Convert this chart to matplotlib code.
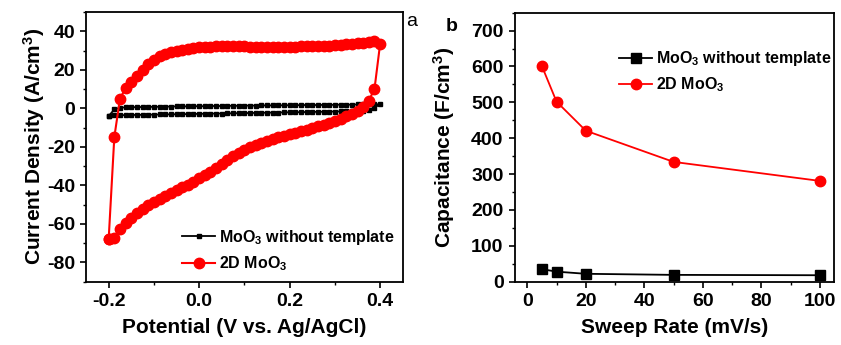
import matplotlib
matplotlib.use("Agg")
import matplotlib.pyplot as plt
from matplotlib.ticker import MultipleLocator

plt.rcParams['font.family'] = ['Liberation Sans', 'DejaVu Sans']
plt.rcParams['font.weight'] = 'bold'
plt.rcParams['axes.labelweight'] = 'bold'
plt.rcParams['mathtext.fontset'] = 'custom'
plt.rcParams['mathtext.bf'] = 'Liberation Sans:bold'
plt.rcParams['mathtext.rm'] = 'Liberation Sans:bold'
plt.rcParams['mathtext.default'] = 'bf'

# CV scan, potential in V vs Ag/AgCl
potential = [-0.2, -0.1875, -0.175, -0.1625, -0.15, -0.1375, -0.125, -0.1125, -0.1, -0.0875,
             -0.075, -0.0625, -0.05, -0.0375, -0.025, -0.0125, 0.0, 0.0125, 0.025, 0.0375,
             0.05, 0.0625, 0.075, 0.0875, 0.1, 0.1125, 0.125, 0.1375, 0.15, 0.1625,
             0.175, 0.1875, 0.2, 0.2125, 0.225, 0.2375, 0.25, 0.2625, 0.275, 0.2875,
             0.3, 0.3125, 0.325, 0.3375, 0.35, 0.3625, 0.375, 0.3875, 0.4]

# MoO3 without template: anodic and cathodic sweep
bulk_fwd = [-4.0, -0.6, 0.3, 0.5, 0.6, 0.6, 0.7, 0.7, 0.8, 0.8,
            0.9, 0.9, 1.0, 1.0, 1.0, 1.1, 1.1, 1.1, 1.2, 1.2,
            1.2, 1.3, 1.3, 1.3, 1.4, 1.4, 1.4, 1.5, 1.5, 1.5,
            1.5, 1.6, 1.6, 1.6, 1.7, 1.7, 1.7, 1.7, 1.8, 1.8,
            1.8, 1.9, 1.9, 1.9, 2.0, 2.0, 2.0, 2.1, 2.1]
bulk_rev = [-4.0, -3.7, -3.6, -3.5, -3.5, -3.4, -3.4, -3.3, -3.3, -3.2,
            -3.2, -3.1, -3.1, -3.0, -3.0, -2.9, -2.9, -2.8, -2.8, -2.7,
            -2.7, -2.6, -2.6, -2.5, -2.5, -2.4, -2.4, -2.3, -2.3, -2.2,
            -2.2, -2.1, -2.1, -2.0, -2.0, -1.9, -1.9, -1.8, -1.8, -1.7,
            -1.7, -1.6, -1.6, -1.5, -1.4, -1.2, -0.8, 0.4, 2.1]

# 2D MoO3
sheet_fwd = [-68.0, -15.0, 5.0, 10.5, 13.5, 17.0, 20.0, 23.0, 25.3, 27.0,
             28.3, 29.2, 30.0, 30.5, 31.0, 31.3, 31.6, 31.8, 32.0, 32.1,
             32.2, 32.3, 32.3, 32.2, 32.1, 32.0, 32.0, 31.9, 31.9, 31.9,
             31.9, 31.9, 32.0, 32.0, 32.1, 32.2, 32.3, 32.4, 32.5, 32.6,
             32.8, 33.0, 33.2, 33.5, 33.8, 34.1, 34.5, 35.0, 33.5]
sheet_rev = [-68.0, -67.5, -62.5, -59.5, -56.8, -54.3, -52.2, -50.4, -48.7, -47.1,
             -45.6, -44.1, -42.6, -41.1, -39.6, -38.0, -36.4, -34.7, -32.8, -30.8,
             -28.8, -26.7, -24.9, -23.1, -21.5, -20.1, -18.9, -17.8, -16.8, -15.9,
             -15.0, -14.2, -13.4, -12.6, -11.8, -11.0, -10.2, -9.3, -8.4, -7.4,
             -6.4, -5.3, -4.1, -2.8, -1.2, 0.8, 4.0, 10.0, 33.5]

# capacitance vs sweep rate
sweep_rate = [5, 10, 20, 50, 100]
cap_bulk = [35, 28, 22, 19, 18]
cap_sheet = [601, 502, 421, 334, 281]

label_bulk = r"MoO$_3$ without template"
label_sheet = r"2D MoO$_3$"

# tick values
cv_xticks = [-0.2, 0.0, 0.2, 0.4]
cv_yticks = [-80, -60, -40, -20, 0, 20, 40]
rate_xticks = [0, 20, 40, 60, 80, 100]
cap_yticks = [0, 100, 200, 300, 400, 500, 600, 700]

fig = plt.figure(figsize=(8.41, 3.45), dpi=100)
ax = fig.add_axes([0.1023, 0.1835, 0.3766, 0.7817])
bx = fig.add_axes([0.612, 0.1835, 0.380, 0.7797])

loop_x = potential + potential[::-1][1:]
ax.plot(loop_x, bulk_fwd + bulk_rev[::-1][1:], color='black', marker='s',
        ms=3.2, lw=1.3, label=label_bulk)
ax.plot(loop_x, sheet_fwd + sheet_rev[::-1][1:], color='#ff0000', marker='o',
        ms=7.5, lw=1.5, label=label_sheet)
ax.set_xlim(-0.25, 0.45)
ax.set_ylim(-90, 50)
ax.set_xticks(cv_xticks, [f"{v:.1f}" for v in cv_xticks], fontweight='heavy')
ax.set_yticks(cv_yticks, [str(v) for v in cv_yticks], fontweight='heavy')
ax.xaxis.set_minor_locator(MultipleLocator(0.1))
ax.yaxis.set_minor_locator(MultipleLocator(10))
ax.set_xlabel('Potential (V vs. Ag/AgCl)', fontsize=15, labelpad=6)
ax.set_ylabel(r'Current Density (A/cm$^3$)', fontsize=15, labelpad=0)
ax.legend(loc='lower right', frameon=False, fontsize=11.5, handlelength=2.1,
          handletextpad=0.2, borderaxespad=0.15, labelspacing=0.45)
ax.text(1.012, 0.995, 'a', transform=ax.transAxes, fontsize=14,
        fontweight='normal', va='top', ha='left')

bx.plot(sweep_rate, cap_bulk, color='black', marker='s', ms=6.5, lw=1.3,
        label=label_bulk)
bx.plot(sweep_rate, cap_sheet, color='#ff0000', marker='o', ms=7.5, lw=1.3,
        label=label_sheet)
bx.set_xlim(-4.3, 104.9)
bx.set_ylim(0, 750)
bx.set_xticks(rate_xticks, [str(v) for v in rate_xticks], fontweight='heavy')
bx.set_yticks(cap_yticks, [str(v) for v in cap_yticks], fontweight='heavy')
bx.xaxis.set_minor_locator(MultipleLocator(10))
bx.yaxis.set_minor_locator(MultipleLocator(50))
bx.set_xlabel('Sweep Rate (mV/s)', fontsize=15, labelpad=6)
bx.set_ylabel(r'Capacitance (F/cm$^3$)', fontsize=15, labelpad=10)
bx.legend(loc='upper right', bbox_to_anchor=(1.02, 0.9), frameon=False,
          fontsize=11.5, handlelength=2.1, handletextpad=0.2,
          borderaxespad=0.2, labelspacing=0.45)
bx.text(-0.215, 0.98, 'b', transform=bx.transAxes, fontsize=14,
        fontweight='bold', va='top', ha='left')

for a in (ax, bx):
    for s in a.spines.values():
        s.set_linewidth(1.3)
    a.tick_params(which='major', direction='out', length=4, width=1.2,
                  labelsize=14, pad=4)
    a.tick_params(which='minor', direction='out', length=2.5, width=1.0)
    a.tick_params(top=False, right=False, which='both')

fig.savefig('out.png', dpi=100)
